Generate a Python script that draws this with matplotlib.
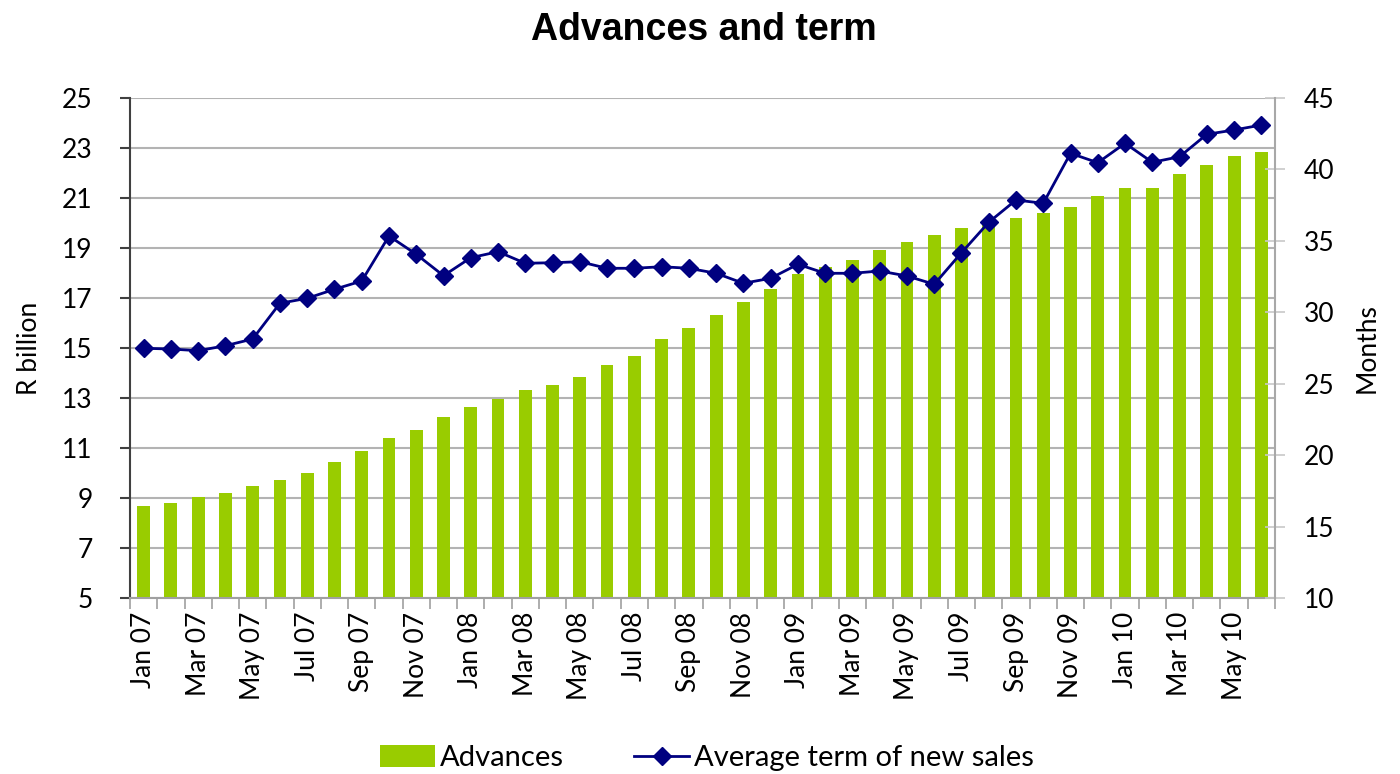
import matplotlib
matplotlib.use('Agg')
import matplotlib.pyplot as plt
from matplotlib.ticker import FixedLocator

months = ['Jan 07', 'Feb 07', 'Mar 07', 'Apr 07', 'May 07', 'Jun 07', 'Jul 07', 'Aug 07',
          'Sep 07', 'Oct 07', 'Nov 07', 'Dec 07', 'Jan 08', 'Feb 08', 'Mar 08', 'Apr 08',
          'May 08', 'Jun 08', 'Jul 08', 'Aug 08', 'Sep 08', 'Oct 08', 'Nov 08', 'Dec 08',
          'Jan 09', 'Feb 09', 'Mar 09', 'Apr 09', 'May 09', 'Jun 09', 'Jul 09', 'Aug 09',
          'Sep 09', 'Oct 09', 'Nov 09', 'Dec 09', 'Jan 10', 'Feb 10', 'Mar 10', 'Apr 10',
          'May 10', 'Jun 10']

# R billion
advances = [8.68, 8.79, 9.05, 9.21, 9.48, 9.72, 9.99, 10.45, 10.88, 11.40,
            11.72, 12.23, 12.65, 12.97, 13.32, 13.52, 13.83, 14.31, 14.67, 15.37,
            15.81, 16.31, 16.85, 17.37, 17.97, 18.25, 18.52, 18.92, 19.25, 19.51,
            19.80, 19.95, 20.21, 20.39, 20.63, 21.07, 21.40, 21.41, 21.97, 22.31,
            22.67, 22.85]

# months
term = [27.48, 27.43, 27.31, 27.66, 28.13, 30.63, 30.98, 31.61, 32.19, 35.34,
        34.06, 32.56, 33.82, 34.24, 33.43, 33.47, 33.54, 33.08, 33.08, 33.19,
        33.08, 32.73, 32.03, 32.38, 33.36, 32.73, 32.73, 32.89, 32.54, 31.96,
        34.17, 36.30, 37.86, 37.63, 41.13, 40.47, 41.83, 40.50, 40.89, 42.46,
        42.76, 43.11]

left_ticks = [5, 7, 9, 11, 13, 15, 17, 19, 21, 23, 25]
right_ticks = [10, 15, 20, 25, 30, 35, 40, 45]

plt.rcParams['font.family'] = ['Lato', 'DejaVu Sans']
fs = 19

fig = plt.figure(figsize=(14, 7.74), dpi=100)
ax = fig.add_axes([130 / 1400, 1 - 598 / 774, 1145 / 1400, 500 / 774])
x = list(range(len(months)))

ax.bar(x, advances, width=0.47, color='#99CC00', label='Advances', zorder=2)
ax.set_xlim(-0.5, len(months) - 0.5)
ax.set_ylim(5, 25)
ax.set_yticks(left_ticks)
ax.grid(axis='y', color='#b3b3b3', linewidth=1.5, zorder=0)
ax.set_axisbelow(True)

ax.set_xticks(x[::2])
ax.set_xticklabels(months[::2], rotation=90, fontsize=fs)
ax.xaxis.set_minor_locator(FixedLocator([i - 0.5 for i in range(len(months) + 1)]))
ax.tick_params(axis='x', which='major', length=0, pad=10)
ax.tick_params(axis='x', which='minor', length=8, width=1.2, color='#a0a0a0', direction='out')
ax.tick_params(axis='y', labelsize=fs, length=7, width=1.5, color='#404040', pad=20)

ax.spines['top'].set_visible(False)
ax.spines['right'].set_visible(False)
ax.spines['left'].set_color('#404040')
ax.spines['left'].set_linewidth(1.5)
ax.spines['bottom'].set_color('#a0a0a0')
ax.spines['bottom'].set_linewidth(1.5)
ax.set_ylabel('R billion', fontsize=fs, labelpad=14)

ax2 = ax.twinx()
ax2.plot(x, term, color='#000080', linewidth=2, marker='D', markersize=9,
         label='Average term of new sales', zorder=3)
ax2.set_ylim(10, 45)
ax2.set_yticks(right_ticks)
ax2.tick_params(axis='y', labelsize=fs, length=14, width=1.2, color='#c8c8c8',
                direction='inout', pad=14)
for s in ['top', 'left', 'bottom']:
    ax2.spines[s].set_visible(False)
ax2.spines['right'].set_color('#a8a8a8')
ax2.spines['right'].set_linewidth(1.5)
ax2.set_ylabel('Months', fontsize=fs, labelpad=14)

fig.suptitle('Advances and term', x=0.503, y=0.985, fontsize=27, fontweight='bold',
             family='Liberation Sans')

h1, l1 = ax.get_legend_handles_labels()
h2, l2 = ax2.get_legend_handles_labels()
fig.legend(h1 + h2, l1 + l2, loc='center', bbox_to_anchor=(0.505, 1 - 758 / 774), ncol=2,
           frameon=False, fontsize=21, handlelength=1.9, handletextpad=0.17,
           columnspacing=2.4, handleheight=0.8)

fig.savefig('out.png', dpi=100)
